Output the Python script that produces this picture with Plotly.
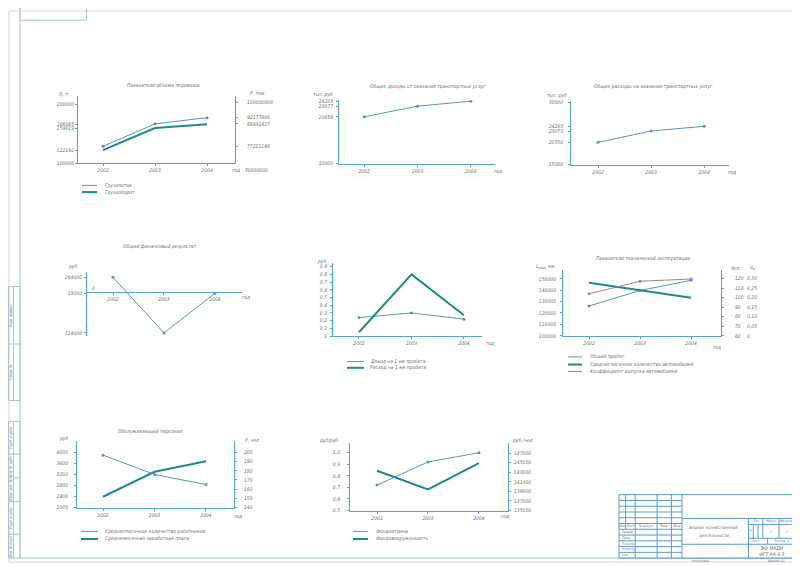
import plotly.graph_objects as go

W, H = 800, 566
# the page body adds an 8px offset; reference pixels are shifted back by it
OFF = 8

YEARS = [2002, 2003, 2004]
YEAR_LABELS = ["2002", "2003", "2004"]

# Показатели объема перевозок
GRUZOPOTOK = [77221166, 88932427, 92177806]
GRUZOOBOROT = [122192, 159619, 166065]
Q_TICKS = [100000, 122192, 159619, 166065, 200000]
P_TICKS = [77221166, 88932427, 92177806, 100000000]

# Общие доходы от оказания транспортных услуг
DOHODY = [20656, 23077, 24203]
DOHODY_TICKS = [10000, 20656, 23077, 24203]

# Общие расходы на оказание транспортных услуг
RASHODY = [20350, 23073, 24203]
RASHODY_TICKS = [15000, 20350, 23073, 24203, 30000]

# Общий финансовый результат
FIN_RES = [264000, -724000, -19000]
FIN_TICKS = [264000, -19000, -724000]

# Доход / расход на 1 км пробега
DOHOD_KM = [0.24, 0.30, 0.22]
RASHOD_KM = [0.05, 0.80, 0.27]
KM_TICKS = [0, 0.1, 0.2, 0.3, 0.4, 0.5, 0.6, 0.7, 0.8, 0.9]
KM_LABELS = ["0", "0,1", "0,2", "0,3", "0,4", "0,5", "0,6", "0,7", "0,8", "0,9"]

# Показатели технической эксплуатации
PROBEG = [126100, 139700, 148700]
ASP = [115.5, 107.5, 100]
ALPHA = [0.22, 0.286, 0.298]
PROBEG_TICKS = [100000, 110000, 120000, 130000, 140000, 150000]
ASP_TICKS = [60, 70, 80, 90, 100, 110, 120]
ALPHA_TICKS = [0, 0.05, 0.10, 0.15, 0.20, 0.25, 0.30]
ALPHA_LABELS = ["0", "0,05", "0,10", "0,15", "0,20", "0,25", "0,30"]

# Обслуживающий персонал
RABOTNIKI = [197, 176, 165]
ZARPLATA = [2390, 3290, 3670]
RUB_TICKS = [2000, 2400, 2800, 3200, 3600, 4000]
CHEL_TICKS = [140, 150, 160, 170, 180, 190, 200]

# Фондоотдача / фондовооруженность
FONDOOTDACHA = [0.72, 0.92, 1.0]
FONDOVOOR = [143300, 139400, 144900]
RR_TICKS = [0.5, 0.6, 0.7, 0.8, 0.9, 1.0]
RR_LABELS = ["0,5", "0,6", "0,7", "0,8", "0,9", "1,0"]
RCH_TICKS = [135000, 137000, 139000, 141000, 143000, 145000, 147000]

FONT = "Liberation Sans Narrow, DejaVu Sans Condensed, sans-serif"
TXT = "#6e6e6e"
AX = "#55a3da"
THIN = "#5b8fcc"
THICK = "#1f8a8c"
GRAY = "#8c8c9c"
FRAME = "#a6c2dc"
STAMP = "#5a9ad4"


def X(px):
    return (px - OFF) / W


def Y(py):
    return 1 - (py - OFF) / H


def tfont(size=5):
    return dict(family=FONT, size=size, color=TXT, style="italic")


def xax(x0, x1, rng, anchor):
    return dict(domain=[X(x0), X(x1)], range=rng, anchor=anchor,
                tickvals=YEARS, ticktext=YEAR_LABELS, tickfont=tfont(),
                showline=True, linecolor=AX, linewidth=1, ticks="outside",
                ticklen=2, tickcolor=AX, showgrid=False, zeroline=False)


def yax(yb, yt, rng, vals, labels, anchor, standoff=0, **kw):
    d = dict(range=rng, anchor=anchor, tickvals=vals,
             ticktext=labels if labels else [str(v) for v in vals],
             tickfont=tfont(), showline=True, linecolor=AX, linewidth=1,
             ticks="outside", ticklen=2, tickcolor=AX, showgrid=False,
             zeroline=False, ticklabelstandoff=standoff)
    if yb is not None:
        d["domain"] = [Y(yb), Y(yt)]
    d.update(kw)
    return d


fig = go.Figure()


def thin(x, y, xa, ya, color=THIN):
    fig.add_trace(go.Scatter(x=x, y=y, xaxis=xa, yaxis=ya, mode="lines+markers",
                             line=dict(color=color, width=1),
                             marker=dict(size=3, color=color), showlegend=False))


def thick(x, y, xa, ya):
    fig.add_trace(go.Scatter(x=x, y=y, xaxis=xa, yaxis=ya, mode="lines",
                             line=dict(color=THICK, width=2), showlegend=False))


# traces
thin(YEARS, GRUZOPOTOK, "x", "y9")
thick(YEARS, GRUZOOBOROT, "x", "y")
thin(YEARS, DOHODY, "x2", "y2")
thin(YEARS, RASHODY, "x3", "y3")
thin(YEARS, FIN_RES, "x4", "y4")
thin(YEARS, DOHOD_KM, "x5", "y5")
thick(YEARS, RASHOD_KM, "x5", "y5")
thin(YEARS, PROBEG, "x6", "y6")
thick(YEARS, ASP, "x6", "y10")
thin(YEARS, ALPHA, "x6", "y11", GRAY)
thin(YEARS, RABOTNIKI, "x7", "y12")
thick(YEARS, ZARPLATA, "x7", "y7")
thin(YEARS, FONDOOTDACHA, "x8", "y8")
thick(YEARS, FONDOVOOR, "x8", "y13")

layout = dict(width=W, height=H, margin=dict(l=0, r=0, t=0, b=0),
              paper_bgcolor="white", plot_bgcolor="rgba(0,0,0,0)",
              showlegend=False)

# chart 1
layout["xaxis"] = xax(78, 235, [2001.519, 2004.538], "y")
layout["yaxis"] = yax(162.5, 95, [100000, 213800], Q_TICKS, None, "x", 0)
layout["yaxis9"] = yax(None, None, [68420000, 103360000], P_TICKS, None, "x",
                       8, overlaying="y", side="right")
# chart 2
layout["xaxis2"] = xax(339, 495, [2001.528, 2004.453], "y2")
layout["yaxis2"] = yax(163, 99, [10000, 24430], DOHODY_TICKS, None, "x2", 2)
# chart 3
layout["xaxis3"] = xax(571, 729, [2001.49, 2004.47], "y3")
layout["yaxis3"] = yax(164, 100, [15000, 30238], RASHODY_TICKS, None, "x3", 4)
# chart 4
layout["xaxis4"] = xax(87, 242, [2001.49, 2004.53], "free")
layout["xaxis4"]["position"] = Y(292.7)
layout["yaxis4"] = yax(337, 272, [-780000, 364000], FIN_TICKS, None, "x4", 1)
# chart 5
layout["xaxis5"] = xax(333, 482, [2001.505, 2004.343], "y5")
layout["yaxis5"] = yax(337, 263, [0, 0.951], KM_TICKS, KM_LABELS, "x5", 2)
# chart 6
layout["xaxis6"] = xax(563, 721, [2001.49, 2004.588], "y6")
layout["yaxis6"] = yax(336.7, 270, [100000, 158000], PROBEG_TICKS, None, "x6", 3)
layout["yaxis10"] = yax(None, None, [60, 129.3], ASP_TICKS, None, "x6", 10,
                        overlaying="y6", side="right")
layout["yaxis11"] = yax(None, None, [0, 0.3467], ALPHA_TICKS, ALPHA_LABELS, "free", 1,
                        overlaying="y6", side="right", position=X(745),
                        showline=False, ticks="")
# chart 7
layout["xaxis7"] = xax(77, 234, [2001.495, 2004.544], "y7")
layout["yaxis7"] = yax(510, 443, [2000, 4393], RUB_TICKS, None, "x7", 5)
layout["yaxis12"] = yax(None, None, [140, 212.2], CHEL_TICKS, None, "x7", 6,
                        overlaying="y7", side="right")
# chart 8
layout["xaxis8"] = xax(350, 508, [2001.47, 2004.57], "y8")
layout["yaxis8"] = yax(513, 445, [0.5, 1.083], RR_TICKS, RR_LABELS, "x8", 6)
layout["yaxis13"] = yax(None, None, [135000, 149070], RCH_TICKS, None, "x8", 2,
                        overlaying="y8", side="right")

fig.update_layout(**layout)

ann = []


def txt(s, x, y, size=5, anchor="center", angle=0):
    ann.append(dict(text=s, x=X(x), y=Y(y), xref="paper", yref="paper",
                    showarrow=False, xanchor=anchor, yanchor="middle",
                    textangle=angle, font=tfont(size)))


shapes = []


def line(x0, y0, x1, y1, color=STAMP, width=1):
    shapes.append(dict(type="line", xref="paper", yref="paper",
                       x0=X(x0), y0=Y(y0), x1=X(x1), y1=Y(y1),
                       line=dict(color=color, width=width)))


def rect(x0, y0, x1, y1, color=STAMP, width=1):
    shapes.append(dict(type="rect", xref="paper", yref="paper",
                       x0=X(x0), y0=Y(y0), x1=X(x1), y1=Y(y1),
                       line=dict(color=color, width=width)))


# chart texts
txt("Показатели объема перевозок", 163, 84)
txt("Q, т", 63, 93)
txt("Р, ткм", 257, 92)
txt("год", 236, 169)
txt("50000000", 256, 169)
txt("Грузопоток", 103, 185, anchor="left")
txt("Грузооборот", 103, 191.7, anchor="left")

txt("Общие доходы от оказания транспортных услуг", 428, 85)
txt("тыс. руб", 323, 93)
txt("год", 498, 170)

txt("Общие расходы на оказание транспортных услуг", 653, 85)
txt("тыс. руб", 557, 94)
txt("год", 732, 171)

txt("Общий финансовый результат", 160, 247)
txt("руб", 73, 267)
txt("0", 93, 288)
txt("год", 246, 298)

txt("руб", 322, 262)
txt("год", 490, 344)
txt("Доход на 1 км пробега", 368, 362.7, anchor="left")
txt("Расход на 1 км пробега", 368, 369, anchor="left")

txt("Показатели технической эксплуатации", 643, 259)
txt("L<sub>общ</sub>, км", 545, 267)
txt("Асп", 735, 268)
txt("α<sub>в</sub>", 752, 268)
txt("год", 717, 348)
txt("Общий пробег", 588, 358, anchor="left")
txt("Среднесписочное количество автомобилей", 588, 365.7, anchor="left")
txt("Коэффициент выпуска автомобилей", 588, 372.7, anchor="left")

txt("Обслуживающий персонал", 150, 433)
txt("руб", 64, 440)
txt("Р, чел", 252, 442)
txt("год", 238, 519)
txt("Среднесписочное количество работников", 103, 534, anchor="left")
txt("Среднемесячная заработная плата", 103, 541.7, anchor="left")

txt("руб/руб", 328, 442)
txt("руб./чел", 522, 442)
txt("год", 505, 519)
txt("Фондоотдача", 374, 534, anchor="left")
txt("Фондовооруженность", 374, 541.7, anchor="left")

# legend samples
for y, c, w in [(185, THIN, 1), (191.7, THICK, 2)]:
    line(82, y, 97, y, c, w)
for y, c, w in [(362.7, THIN, 1), (369, THICK, 2)]:
    line(347, y, 364, y, c, w)
for y, c, w in [(358, THIN, 1), (365.7, THICK, 2), (372.7, GRAY, 1)]:
    line(568, y, 582, y, c, w)
for y, c, w in [(534, THIN, 1), (541.7, THICK, 2)]:
    line(81, y, 98, y, c, w)
for y, c, w in [(534, THIN, 1), (541.7, THICK, 2)]:
    line(353, y, 368, y, c, w)

# sheet frame
rect(9, 9, 799, 565, "#d4d4d4")
rect(20, 5, 795, 561, FRAME)
rect(20, 5, 86.6, 18.3, FRAME)

# left strip
rect(8.6, 287, 20, 402, FRAME)
line(8.6, 345, 20, 345, FRAME)
line(13.4, 287, 13.4, 402, FRAME)
rect(8.6, 423, 20, 561, FRAME)
for yy in [456, 480, 504, 537]:
    line(8.6, yy, 20, yy, FRAME)
line(13.4, 423, 13.4, 561, FRAME)
for s, yc in [("Перв. примен.", 316), ("Справ. №", 373), ("Подп. и дата", 439.5),
              ("Инв. № дубл.", 468), ("Взам. инв. №", 492), ("Подп. и дата", 520.5),
              ("Инв. № подл.", 549)]:
    txt(s, 11, yc, size=3.5, angle=-90)

# title block
rect(619, 497, 795, 561)
rh = 64 / 11
for k in range(1, 11):
    line(619, 497 + k * rh, 682, 497 + k * rh)
line(625.7, 497, 625.7, 497 + 6 * rh)
for xx in [635.2, 657.1, 671.4, 682]:
    line(xx, 497, xx, 561)
line(682, 521, 795, 521)
line(682, 547, 748.5, 547)
line(748.5, 521, 748.5, 561)
for yy in [527, 541, 547]:
    line(748.5, yy, 795, yy)
line(762.8, 521, 762.8, 541)
line(779, 521, 779, 541)
line(753.3, 527, 753.3, 541)
line(758, 527, 758, 541)
line(767.6, 541, 767.6, 547)

hy = 497 + 5.5 * rh
for s, xc in [("Изм.", 622.3), ("Лист", 630.5), ("№ докум.", 646), ("Подп.", 664.3), ("Дата", 676.7)]:
    txt(s, xc, hy, size=3.3)
for i, s in enumerate(["Разраб.", "Пров.", "Т.контр.", "Н.контр.", "Утв."]):
    txt(s, 620, 497 + (6.5 + i) * rh, size=3.3, anchor="left")
txt("Анализ хозяйственной", 713, 530, size=4.5)
txt("деятельности", 713, 538, size=4.5)
txt("Лит.", 755.6, 524, size=3.3)
txt("Масса", 771, 524, size=3.3)
txt("Масштаб", 787, 524, size=3.3)
txt("У", 750.9, 534, size=3.3)
txt("–", 771, 534, size=4.5)
txt("–", 787, 534, size=4.5)
txt("Лист", 755, 544, size=3.3)
txt("Листов  1", 781, 544, size=3.3)
txt("ВФ МАДИ", 772, 551, size=5)
txt("ФГТ АА-4.3", 772, 557, size=5)
txt("Копировал", 700, 563.5, size=3.3)
txt("Формат А1", 776, 563.5, size=3.3)

fig.update_layout(annotations=ann, shapes=shapes)
fig.write_html("out.html")
